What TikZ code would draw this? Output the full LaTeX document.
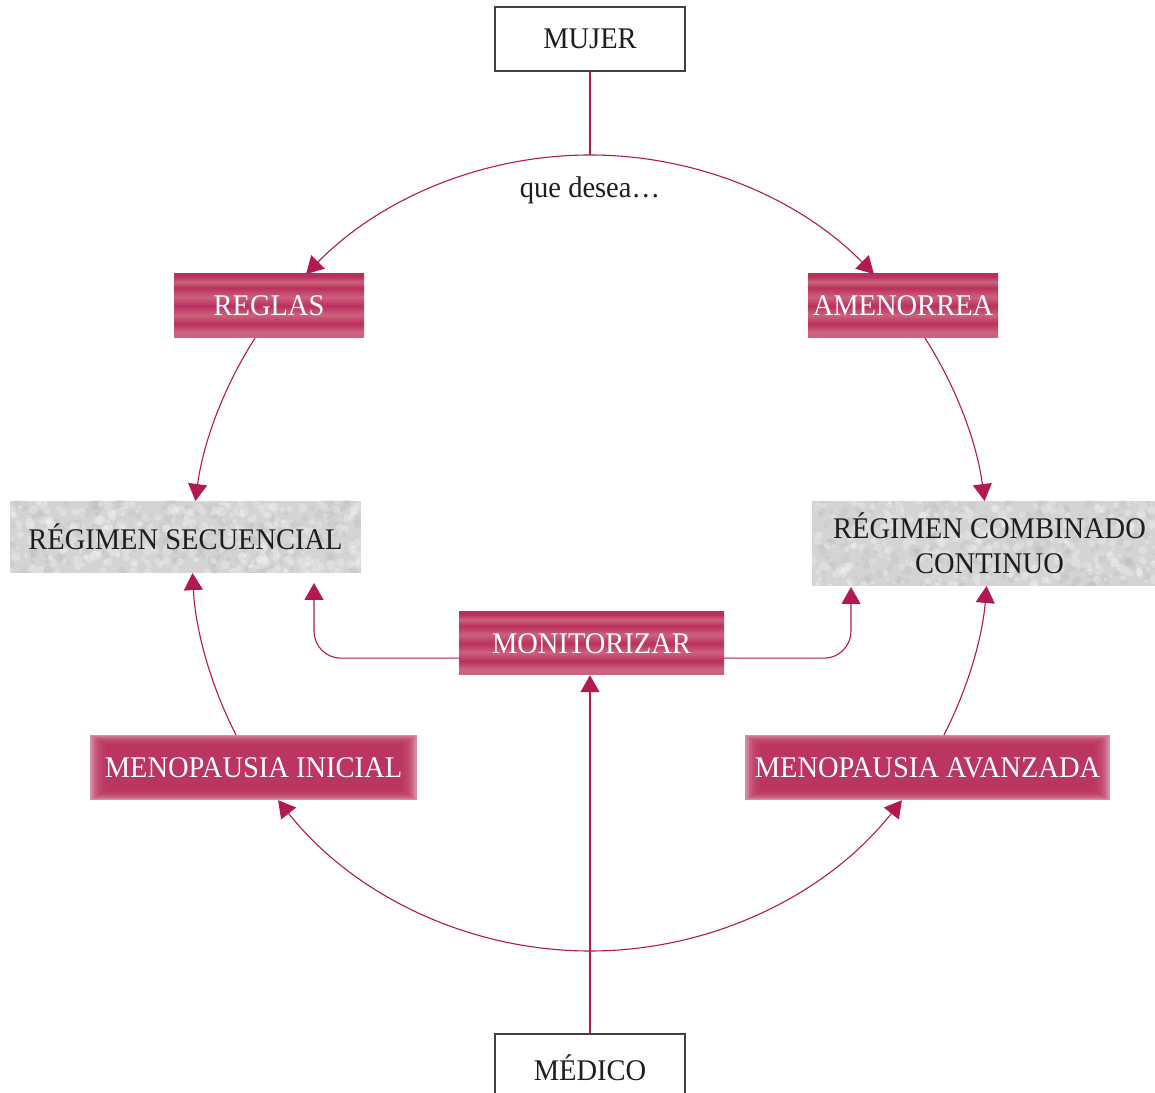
\documentclass[tikz,border=0pt]{standalone}
\usepackage{fontspec}
\setmainfont[FakeStretch=0.95]{Liberation Serif}
\usetikzlibrary{arrows.meta,calc}

\definecolor{wine}{RGB}{178,24,82}
\definecolor{roseDk}{RGB}{186,48,92}
\definecolor{roseLt}{RGB}{204,98,124}
\definecolor{roseEdge}{RGB}{216,140,160}
\definecolor{greyBase}{RGB}{212,212,212}
\definecolor{greyDot}{RGB}{175,175,175}
\definecolor{inkGrey}{RGB}{30,30,30}

% soft horizontal bands for the pink ribbons (visible band is 25bp..75bp)
\pgfdeclareverticalshading{ribbon}{100bp}{%
  color(0bp)=(roseLt); color(25bp)=(roseLt); color(30bp)=(roseLt);
  color(36bp)=(roseDk); color(43bp)=(roseLt); color(50bp)=(roseDk);
  color(57bp)=(roseLt); color(64bp)=(roseDk); color(69bp)=(roseLt);
  color(73bp)=(roseDk); color(75bp)=(roseDk); color(100bp)=(roseDk)}

\tikzset{
  x=1pt, y=1pt,
  every node/.style={font=\fontsize{30}{35}\selectfont, inner sep=0pt},
  conn/.style={draw=wine, line width=1.1pt},
  tip/.style={-{Triangle[length=17pt,width=19pt,fill=wine]}},
  whitebox/.style={draw=inkGrey!85, line width=1.2pt, fill=white,
    text=inkGrey, minimum width=190pt, minimum height=64pt},
  stripebox/.style={shading=ribbon, shading angle=0, text=white,
    minimum height=64pt},
  glowbox/.style={fill=roseEdge, text=white, minimum height=65pt,
    path picture={
      \foreach \i in {0,...,9}{
        \fill[roseDk, opacity=0.22]
          ([shift={({2+1.6*\i},{1+1.0*\i})}]path picture bounding box.south west)
          rectangle
          ([shift={({-2-1.6*\i},{-1-1.0*\i})}]path picture bounding box.north east);
      }
    }},
  greybox/.style n args={2}{fill=greyBase, text=inkGrey, align=center,
    minimum width=#1, minimum height=#2,
    path picture={
      \foreach \k in {1,...,260}{
        \fill[greyDot, opacity=0.18]
          ([shift={({rnd*#1},{rnd*#2})}]path picture bounding box.south west)
          circle ({1.5+3.5*rnd});
      }
      \foreach \k in {1,...,320}{
        \fill[white, opacity=0.25]
          ([shift={({rnd*#1},{rnd*#2})}]path picture bounding box.south west)
          circle ({1.5+3.5*rnd});
      }
    }},
}

\begin{document}
\begin{tikzpicture}
\pgfmathsetseed{4211}
\useasboundingbox (0,0) rectangle (1155,1092);

% ring of the cycle
\coordinate (O) at (590,539);
\coordinate (top) at ($(O)+(90:398)$);
\coordinate (bot) at ($(O)+(270:398)$);

% actors
\node[whitebox] (mujer) at (590,1053) {MUJER};
\node[whitebox, minimum height=68pt] (medico) at (590,24) {MÉDICO};
\node[text=inkGrey] (desea) at (590,902) {que desea…};

% choices and stages
\node[stripebox, minimum width=190pt] (reglas) at (269,786) {REGLAS};
\node[stripebox, minimum width=190pt] (amen) at (903,786) {AMENORREA};
\node[stripebox, minimum width=265pt, minimum height=63pt] (mon) at (591.5,448.5) {MONITORIZAR};
\node[glowbox, minimum width=327pt] (mi) at (253.5,324.5) {MENOPAUSIA INICIAL};
\node[glowbox, minimum width=365pt] (ma) at (927.5,324.5) {MENOPAUSIA AVANZADA};

% regimens
\node[greybox={351}{72}] (rs) at (185.5,555) {RÉGIMEN SECUENCIAL};
\node[greybox={343}{85}] (rcc) at (983.5,548.5) {\hspace*{12pt}RÉGIMEN COMBINADO\\\hspace*{12pt}CONTINUO};

% stems into the ring
\draw[conn] (mujer.south) -- (top);
\draw[conn, tip] (medico.north) -- (medico.north |- mon.south);

% upper arcs: the woman's wish
\draw[conn, tip] (top) arc[start angle=90, end angle=135.5, radius=398];
\draw[conn, tip] (top) arc[start angle=90, end angle=44.5, radius=398];

% arcs from wish to regimen
\draw[conn, tip] ($(O)+(147.3:398)$) arc[start angle=147.3, end angle=172.5, radius=398];
\draw[conn, tip] ($(O)+(32.7:398)$) arc[start angle=32.7, end angle=7.5, radius=398];

% arcs from menopause stage to regimen
\draw[conn, tip] ($(O)+(207.2:398)$) arc[start angle=207.2, end angle=182.9, radius=398];
\draw[conn, tip] ($(O)+(-27.2:398)$) arc[start angle=-27.2, end angle=-4.75, radius=398];

% lower arcs: the physician's assessment
\draw[conn, tip] (bot) arc[start angle=270, end angle=218.4, radius=398];
\draw[conn, tip] (bot) arc[start angle=270, end angle=321.6, radius=398];

% monitoring feeds back into both regimens
\coordinate (monL) at ($(mon.south west)+(0,17)$);
\coordinate (monR) at ($(mon.south east)+(0,17)$);
\coordinate (rsIn) at (314,509);
\coordinate (rccIn) at (851,505);
\draw[conn, tip, rounded corners=27pt] (monL) -| (rsIn);
\draw[conn, tip, rounded corners=27pt] (monR) -| (rccIn);
\end{tikzpicture}
\end{document}
